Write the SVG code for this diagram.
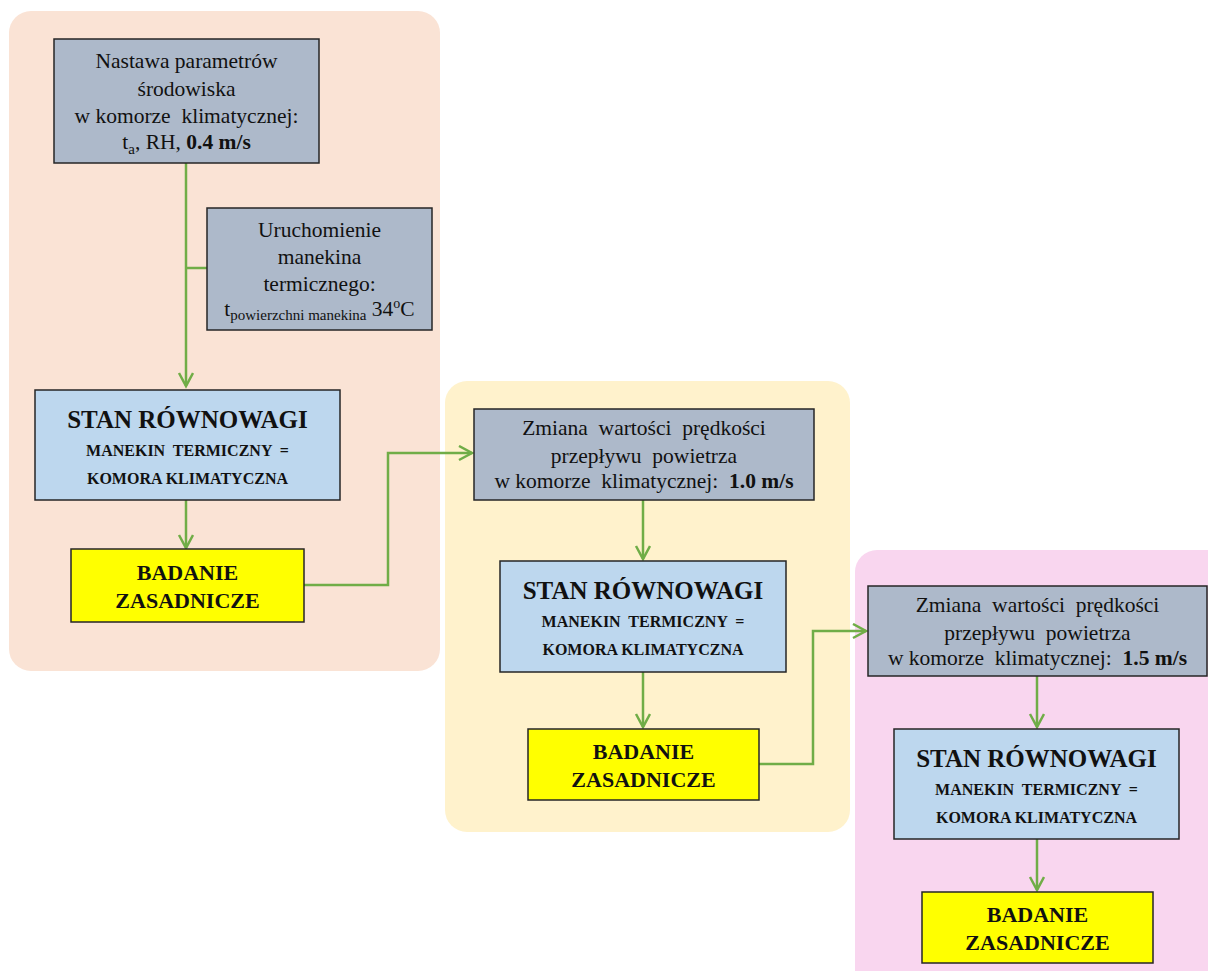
<svg xmlns="http://www.w3.org/2000/svg" width="1208" height="971" viewBox="0 0 1208 971">
<defs>
<style>
.box{stroke:#262626;stroke-width:1.5}
.grey{fill:#ADB9CA}
.blue{fill:#BDD7EE}
.yel{fill:#FFFF00}
text{font-family:"Liberation Serif","DejaVu Serif",serif;fill:#111;text-anchor:middle;white-space:pre}
.n{font-size:21.5px}
.t1{font-size:25px;font-weight:bold}
.t2{font-size:16px;font-weight:bold}
.t3{font-size:22px;font-weight:bold}
.con{fill:none;stroke:#70AD47;stroke-width:2.5}
</style>
<marker id="ah" markerUnits="userSpaceOnUse" markerWidth="20" markerHeight="20" refX="14" refY="8" orient="auto" viewBox="0 0 20 20">
<path d="M1,1 L14,8 L1,15" fill="none" stroke="#70AD47" stroke-width="2.5"/>
</marker>
</defs>
<rect width="1208" height="971" fill="#FFFFFF"/>
<g id="panels">
<rect x="9" y="11" width="431" height="660" rx="22" fill="#FAE3D5"/>
<rect x="445" y="381" width="405" height="451" rx="22" fill="#FFF2CC"/>
<rect x="855" y="550" width="380" height="450" rx="22" fill="#F9D6EF"/>
</g>
<g id="connectors">
<path class="con" d="M186,163 V386" marker-end="url(#ah)"/>
<path class="con" d="M186,268 H207"/>
<path class="con" d="M186,500 V548" marker-end="url(#ah)"/>
<path class="con" d="M304,585 H388 V453 H472" marker-end="url(#ah)"/>
<path class="con" d="M643,500 V559" marker-end="url(#ah)"/>
<path class="con" d="M643,672 V727" marker-end="url(#ah)"/>
<path class="con" d="M759,764 H813 V631 H866" marker-end="url(#ah)"/>
<path class="con" d="M1037,676 V727" marker-end="url(#ah)"/>
<path class="con" d="M1037,839 V890" marker-end="url(#ah)"/>
</g>
<g id="n1">
<rect class="box grey" x="54" y="39" width="265" height="124"/>
<text class="n" x="186.5" y="68">Nastawa parametrów</text>
<text class="n" x="186.5" y="96">środowiska</text>
<text class="n" x="186.5" y="123">w komorze  klimatycznej:</text>
<text class="n" x="186.5" y="149">t<tspan font-size="15" dy="5">a</tspan><tspan dy="-5">, RH, </tspan><tspan font-weight="bold">0.4 m/s</tspan></text>
</g>
<g id="n2">
<rect class="box grey" x="207" y="208" width="225" height="122"/>
<text class="n" x="319.5" y="237">Uruchomienie</text>
<text class="n" x="319.5" y="264">manekina</text>
<text class="n" x="319.5" y="291">termicznego:</text>
<text class="n" x="319.5" y="316" font-size="22">t<tspan font-size="15" dy="4">powierzchni manekina</tspan><tspan dy="-4"> 34</tspan><tspan font-size="14" dy="-8">o</tspan><tspan dy="8">C</tspan></text>
</g>
<g id="n3">
<rect class="box blue" x="35" y="390" width="305" height="110"/>
<text class="t1" x="187.5" y="428">STAN RÓWNOWAGI</text>
<text class="t2" x="187.5" y="456">MANEKIN  TERMICZNY  =</text>
<text class="t2" x="187.5" y="484">KOMORA KLIMATYCZNA</text>
</g>
<g id="n4">
<rect class="box yel" x="71" y="549" width="233" height="73"/>
<text class="t3" x="187.5" y="580">BADANIE</text>
<text class="t3" x="187.5" y="608">ZASADNICZE</text>
</g>
<g id="n5">
<rect class="box grey" x="474" y="409" width="340" height="91"/>
<text class="n" x="644" y="435">Zmiana  wartości  prędkości</text>
<text class="n" x="644" y="463">przepływu  powietrza</text>
<text class="n" x="644" y="488">w komorze  klimatycznej:  <tspan font-weight="bold">1.0 m/s</tspan></text>
</g>
<g id="n6">
<rect class="box blue" x="500" y="561" width="286" height="111"/>
<text class="t1" x="643" y="599">STAN RÓWNOWAGI</text>
<text class="t2" x="643" y="627">MANEKIN  TERMICZNY  =</text>
<text class="t2" x="643" y="655">KOMORA KLIMATYCZNA</text>
</g>
<g id="n7">
<rect class="box yel" x="528" y="729" width="231" height="71"/>
<text class="t3" x="643.5" y="759">BADANIE</text>
<text class="t3" x="643.5" y="787">ZASADNICZE</text>
</g>
<g id="n8">
<rect class="box grey" x="868" y="586" width="339" height="90"/>
<text class="n" x="1037.5" y="612">Zmiana  wartości  prędkości</text>
<text class="n" x="1037.5" y="640">przepływu  powietrza</text>
<text class="n" x="1037.5" y="665">w komorze  klimatycznej:  <tspan font-weight="bold">1.5 m/s</tspan></text>
</g>
<g id="n9">
<rect class="box blue" x="894" y="729" width="285" height="110"/>
<text class="t1" x="1036.5" y="767">STAN RÓWNOWAGI</text>
<text class="t2" x="1036.5" y="795">MANEKIN  TERMICZNY  =</text>
<text class="t2" x="1036.5" y="823">KOMORA KLIMATYCZNA</text>
</g>
<g id="n10">
<rect class="box yel" x="922" y="892" width="231" height="71"/>
<text class="t3" x="1037.5" y="922">BADANIE</text>
<text class="t3" x="1037.5" y="950">ZASADNICZE</text>
</g>
</svg>
